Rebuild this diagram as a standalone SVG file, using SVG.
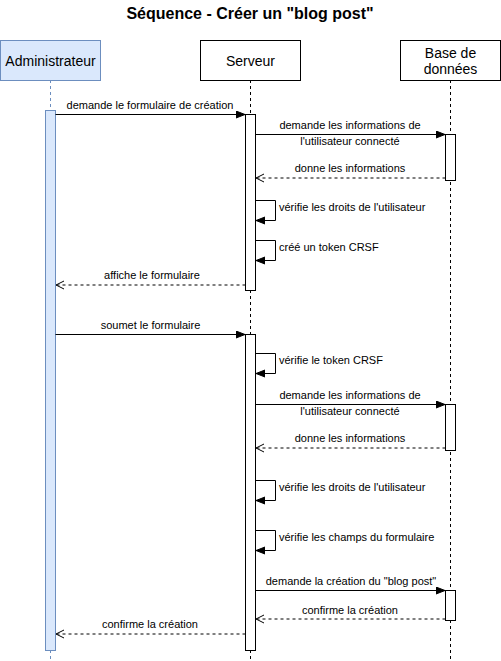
<svg xmlns="http://www.w3.org/2000/svg" width="501" height="661" viewBox="0 0 501 661">
<style>
text{font-family:"Liberation Sans",Arial,sans-serif;fill:#000}
.t{font-size:11px}
.c{text-anchor:middle}
.h{font-size:14px;text-anchor:middle}
.box{fill:#fff;stroke:#000;stroke-width:1}
.adm{fill:#dae8fc;stroke:#6c8ebf;stroke-width:1}
.ll{stroke:#000;stroke-width:1;stroke-dasharray:3 3;fill:none}
.lla{stroke:#6c8ebf;stroke-width:1;stroke-dasharray:3 3;fill:none}
.msg{stroke:#000;stroke-width:1;fill:none;marker-end:url(#block)}
.ret{stroke:#000;stroke-width:1;fill:none;stroke-dasharray:3 3;marker-end:url(#open)}
</style>
<defs>
<marker id="block" markerUnits="userSpaceOnUse" markerWidth="10" markerHeight="9" refX="9" refY="4" orient="auto">
<path d="M0,0.5 L9,4 L0,7.5 z" fill="#000" stroke="#000" stroke-width="1"/>
</marker>
<marker id="open" markerUnits="userSpaceOnUse" markerWidth="10" markerHeight="10" refX="9" refY="5" orient="auto">
<path d="M1,1 L9,5 L1,9" fill="none" stroke="#000" stroke-width="1"/>
</marker>
</defs>
<rect width="501" height="661" fill="#fff"/>
<text x="250" y="18.5" text-anchor="middle" style="font-size:16px;font-weight:bold">Séquence - Créer un "blog post"</text>

<g id="lifelines">
<line class="lla" x1="50.5" y1="80" x2="50.5" y2="661"/>
<line class="ll" x1="250.5" y1="80" x2="250.5" y2="661"/>
<line class="ll" x1="450.5" y1="80" x2="450.5" y2="661"/>
</g>

<g id="administrateur">
<rect class="adm" x="0.5" y="40.5" width="100" height="40"/>
<text class="h" x="50.5" y="65.5">Administrateur</text>
</g>
<g id="serveur">
<rect class="box" x="200.5" y="40.5" width="100" height="40"/>
<text class="h" x="250.5" y="65.5">Serveur</text>
</g>
<g id="base-de-donnees">
<rect class="box" x="400.5" y="40.5" width="100" height="40"/>
<text class="h" x="450.5" y="57.5">Base de</text>
<text class="h" x="450.5" y="73.5">données</text>
</g>

<g id="activations">
<rect id="act-admin" class="adm" x="45.5" y="110.5" width="10" height="540"/>
<rect id="act-serveur-1" class="box" x="245.5" y="114.5" width="10" height="176"/>
<rect id="act-serveur-2" class="box" x="245.5" y="334.5" width="10" height="316"/>
<rect id="act-bd-1" class="box" x="445.5" y="134.5" width="10" height="46"/>
<rect id="act-bd-2" class="box" x="445.5" y="404.5" width="10" height="46"/>
<rect id="act-bd-3" class="box" x="445.5" y="590.5" width="10" height="30"/>
</g>

<g id="connectors">
<path class="msg" d="M55.5,114.5 H245"/>
<path class="msg" d="M255.5,134.5 H445"/>
<path class="ret" d="M445.5,178 H256"/>
<path class="msg" d="M255.5,200.5 H275.5 V220.5 H256"/>
<path class="msg" d="M255.5,240.5 H275.5 V260.5 H256"/>
<path class="ret" d="M245.5,285 H56"/>
<path class="msg" d="M55.5,334.5 H245"/>
<path class="msg" d="M255.5,353.5 H275.5 V373.5 H256"/>
<path class="msg" d="M255.5,404.5 H445"/>
<path class="ret" d="M445.5,448 H256"/>
<path class="msg" d="M255.5,480.5 H275.5 V500.5 H256"/>
<path class="msg" d="M255.5,530.5 H275.5 V550.5 H256"/>
<path class="msg" d="M255.5,590.5 H445"/>
<path class="ret" d="M445.5,619 H256"/>
<path class="ret" d="M245.5,634 H56"/>
</g>

<g id="labels">
<text class="t c" x="150" y="108.5">demande le formulaire de création</text>
<text class="t c" x="350" y="129">demande les informations de</text>
<text class="t c" x="350" y="145">l'utilisateur connecté</text>
<text class="t c" x="350" y="172">donne les informations</text>
<text class="t" x="279" y="211">vérifie les droits de l'utilisateur</text>
<text class="t" x="279" y="251">créé un token CRSF</text>
<text class="t c" x="152" y="279">affiche le formulaire</text>
<text class="t c" x="150.5" y="328.5">soumet le formulaire</text>
<text class="t" x="279" y="364">vérifie le token CRSF</text>
<text class="t c" x="350" y="399">demande les informations de</text>
<text class="t c" x="350" y="415">l'utilisateur connecté</text>
<text class="t c" x="350" y="442">donne les informations</text>
<text class="t" x="279" y="491">vérifie les droits de l'utilisateur</text>
<text class="t" x="279" y="541">vérifie les champs du formulaire</text>
<text class="t c" x="351" y="584.5">demande la création du "blog post"</text>
<text class="t c" x="350" y="613.5">confirme la création</text>
<text class="t c" x="150" y="628">confirme la création</text>
</g>
</svg>
